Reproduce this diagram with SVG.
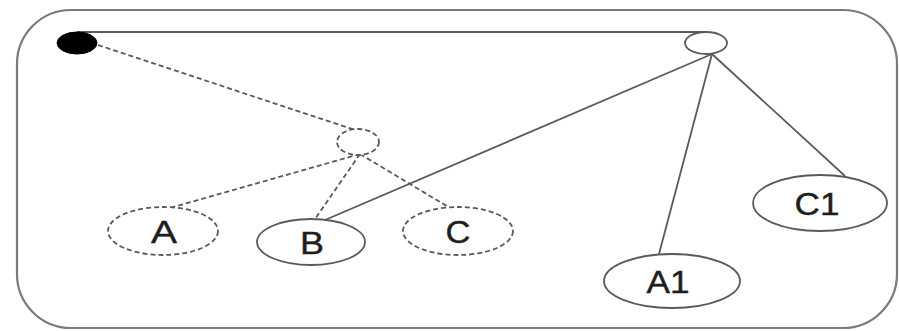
<svg xmlns="http://www.w3.org/2000/svg" width="899" height="331" viewBox="0 0 899 331">
<style>
.frame{fill:none;stroke:#7a7a7a;stroke-width:2.2}
.node{fill:#fff;stroke:#5a5a5a;stroke-width:1.8}
.dash{stroke-dasharray:5 3}
.edge{fill:none;stroke:#5a5a5a;stroke-width:1.8}
.lbl{font-family:"Liberation Sans",Arial,sans-serif;font-size:31px;fill:#1e1e1e;text-anchor:middle;stroke:#1e1e1e;stroke-width:0.4}
</style>
<rect x="0" y="0" width="899" height="331" fill="#fff"/>
<rect class="frame" x="17" y="10" width="880" height="318" rx="54" ry="54"/>
<g id="connectors">
<line class="edge" x1="77" y1="32" x2="706" y2="32"/>
<line class="edge dash" x1="98" y1="45" x2="355" y2="130"/>
<line class="edge dash" x1="360" y1="154" x2="170" y2="208"/>
<line class="edge dash" x1="360" y1="154" x2="315" y2="219"/>
<line class="edge dash" x1="360" y1="154" x2="450" y2="208"/>
<line class="edge" x1="712" y1="54" x2="325" y2="220"/>
<line class="edge" x1="712" y1="54" x2="659" y2="254"/>
<line class="edge" x1="712" y1="54" x2="845" y2="176"/>
</g>
<g id="start"><ellipse cx="77" cy="43" rx="20" ry="11" fill="#000" stroke="#000"/></g>
<g id="fork"><ellipse class="node" cx="706" cy="43" rx="21" ry="11"/></g>
<g id="dfork"><ellipse class="node dash" cx="358" cy="142" rx="21" ry="13"/></g>
<g id="A"><ellipse class="node dash" cx="163" cy="231" rx="55" ry="24"/><text class="lbl" x="164" y="243" textLength="26" lengthAdjust="spacingAndGlyphs">A</text></g>
<g id="B"><ellipse class="node" cx="311" cy="242" rx="54" ry="23"/><text class="lbl" x="312" y="254" textLength="24" lengthAdjust="spacingAndGlyphs">B</text></g>
<g id="C"><ellipse class="node dash" cx="458" cy="231" rx="55" ry="24"/><text class="lbl" x="458" y="243" textLength="25" lengthAdjust="spacingAndGlyphs">C</text></g>
<g id="A1"><ellipse class="node" cx="672" cy="281" rx="68" ry="27"/><text class="lbl" x="668" y="293" textLength="43" lengthAdjust="spacingAndGlyphs">A1</text></g>
<g id="C1"><ellipse class="node" cx="820" cy="203" rx="67" ry="28"/><text class="lbl" x="817" y="215" textLength="45" lengthAdjust="spacingAndGlyphs">C1</text></g>
</svg>
